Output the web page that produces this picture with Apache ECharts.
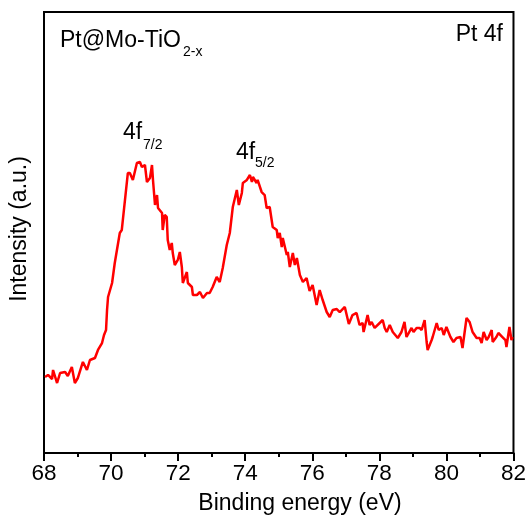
<!DOCTYPE html>
<html>
<head>
<meta charset="utf-8">
<script src="https://cdn.jsdelivr.net/npm/echarts@6/dist/echarts.min.js"></script>
<style>html,body{margin:0;padding:0;background:#fff;}#c{width:529px;height:519px;}</style>
</head>
<body>
<div id="c"></div>
<script>
const xTicks = [68, 70, 72, 74, 76, 78, 80, 82];
const energy = [68.03,68.12,68.24,68.27,68.39,68.48,68.63,68.71,68.83,68.92,69.01,69.16,69.28,69.37,69.52,69.61,69.73,69.79,69.85,69.88,69.91,70.03,70.11,70.26,70.32,70.50,70.56,70.65,70.77,70.86,70.92,71.01,71.07,71.16,71.22,71.25,71.31,71.37,71.40,71.52,71.54,71.60,71.66,71.69,71.75,71.81,71.84,71.90,71.99,72.05,72.11,72.14,72.26,72.29,72.41,72.44,72.56,72.65,72.74,72.86,72.94,73.03,73.15,73.24,73.33,73.45,73.54,73.63,73.75,73.81,73.90,73.93,74.05,74.14,74.20,74.23,74.34,74.37,74.49,74.58,74.64,74.73,74.82,74.94,74.97,75.03,75.09,75.12,75.24,75.27,75.33,75.42,75.48,75.54,75.63,75.72,75.83,75.92,76.01,76.13,76.22,76.31,76.43,76.52,76.61,76.73,76.82,76.97,77.09,77.20,77.32,77.41,77.50,77.53,77.65,77.71,77.77,77.86,78.01,78.10,78.16,78.22,78.31,78.40,78.55,78.66,78.75,78.81,78.96,79.02,79.11,79.20,79.26,79.35,79.41,79.44,79.56,79.59,79.71,79.77,79.86,79.92,80.00,80.12,80.21,80.30,80.42,80.48,80.60,80.69,80.78,80.90,80.99,81.05,81.11,81.20,81.26,81.35,81.38,81.49,81.55,81.67,81.76,81.79,81.88,81.94,81.97];
const intensity = [17.23,17.69,16.78,18.82,15.87,18.14,18.37,17.46,19.50,15.87,17.01,20.64,18.82,21.09,21.54,23.36,24.94,26.76,27.89,32.43,35.37,38.55,43.08,49.89,50.57,63.49,63.49,61.91,65.76,65.99,64.85,65.31,61.45,62.36,65.31,61.91,56.24,58.50,55.56,54.42,50.57,53.97,53.52,48.30,46.03,47.62,45.35,42.63,43.77,45.58,42.18,38.55,41.04,38.55,37.64,35.83,35.83,36.51,35.15,36.28,36.28,37.64,39.91,38.78,41.95,47.17,49.89,55.78,59.64,56.24,58.96,61.23,61.91,63.04,61.45,62.59,61.23,61.91,59.18,58.50,55.56,55.78,51.25,50.57,48.75,49.89,46.71,48.75,44.90,45.58,42.18,45.35,42.63,44.22,40.36,38.78,39.68,36.73,38.10,33.56,36.96,34.69,31.97,30.84,32.43,32.65,31.97,33.11,29.25,31.29,31.75,29.03,29.48,27.44,31.29,29.03,29.71,28.35,29.48,30.16,28.35,27.44,29.03,27.44,26.08,27.44,29.71,26.30,28.35,27.44,28.35,28.35,27.89,30.16,25.17,23.36,25.62,26.30,29.48,27.89,28.35,26.76,28.57,26.30,25.17,26.08,26.30,23.81,30.61,29.71,27.44,26.08,26.08,24.94,27.44,25.62,26.30,27.89,25.17,26.30,27.21,26.30,25.62,24.04,28.57,25.62,26.30];

const FONT = '"Liberation Sans", Arial, sans-serif';
const chart = echarts.init(document.getElementById('c'), null, {renderer: 'canvas'});
const points = energy.map((e, i) => [e, intensity[i]]);

function txt(text, x, y, size, align, rot) {
  return {
    type: 'text', x: x, y: y, rotation: rot || 0, z: 10,
    style: {text: text, fill: '#000', font: size + 'px ' + FONT, align: align || 'left', verticalAlign: 'middle'}
  };
}

chart.setOption({
  animation: false,
  backgroundColor: '#fff',
  grid: {left: 44, right: 15, top: 12, bottom: 66, show: true, borderColor: '#000', borderWidth: 2, backgroundColor: 'transparent'},
  xAxis: {
    type: 'value', min: xTicks[0], max: xTicks[xTicks.length - 1], interval: 2,
    axisLine: {show: true, onZero: false, lineStyle: {color: '#000', width: 2}},
    axisTick: {show: true, length: 8, lineStyle: {color: '#000', width: 2}},
    minorTick: {show: true, splitNumber: 2, length: 4, lineStyle: {color: '#000', width: 2}},
    splitLine: {show: false},
    axisLabel: {color: '#000', fontSize: 22.5, fontFamily: FONT, margin: 9}
  },
  yAxis: {
    type: 'value', min: 0, max: 100,
    axisLine: {show: true, lineStyle: {color: '#000', width: 2}},
    axisTick: {show: false}, axisLabel: {show: false}, splitLine: {show: false}
  },
  series: [{
    type: 'line', data: points, showSymbol: false, smooth: false,
    lineStyle: {color: '#ff0000', width: 2.5}, itemStyle: {color: '#ff0000'}
  }],
  graphic: [
    txt('Pt@Mo-TiO', 60, 41, 23),
    txt('2-x', 183, 52, 14),
    txt('Pt 4f', 503, 35, 23, 'right'),
    txt('4f', 123, 133, 23),
    txt('7/2', 143, 145, 14),
    txt('4f', 236, 153, 23),
    txt('5/2', 255, 163, 14),
    txt('Binding energy (eV)', 300, 504, 23, 'center'),
    txt('Intensity (a.u.)', 20, 229, 23, 'center', Math.PI / 2)
  ]
});
</script>
</body>
</html>
